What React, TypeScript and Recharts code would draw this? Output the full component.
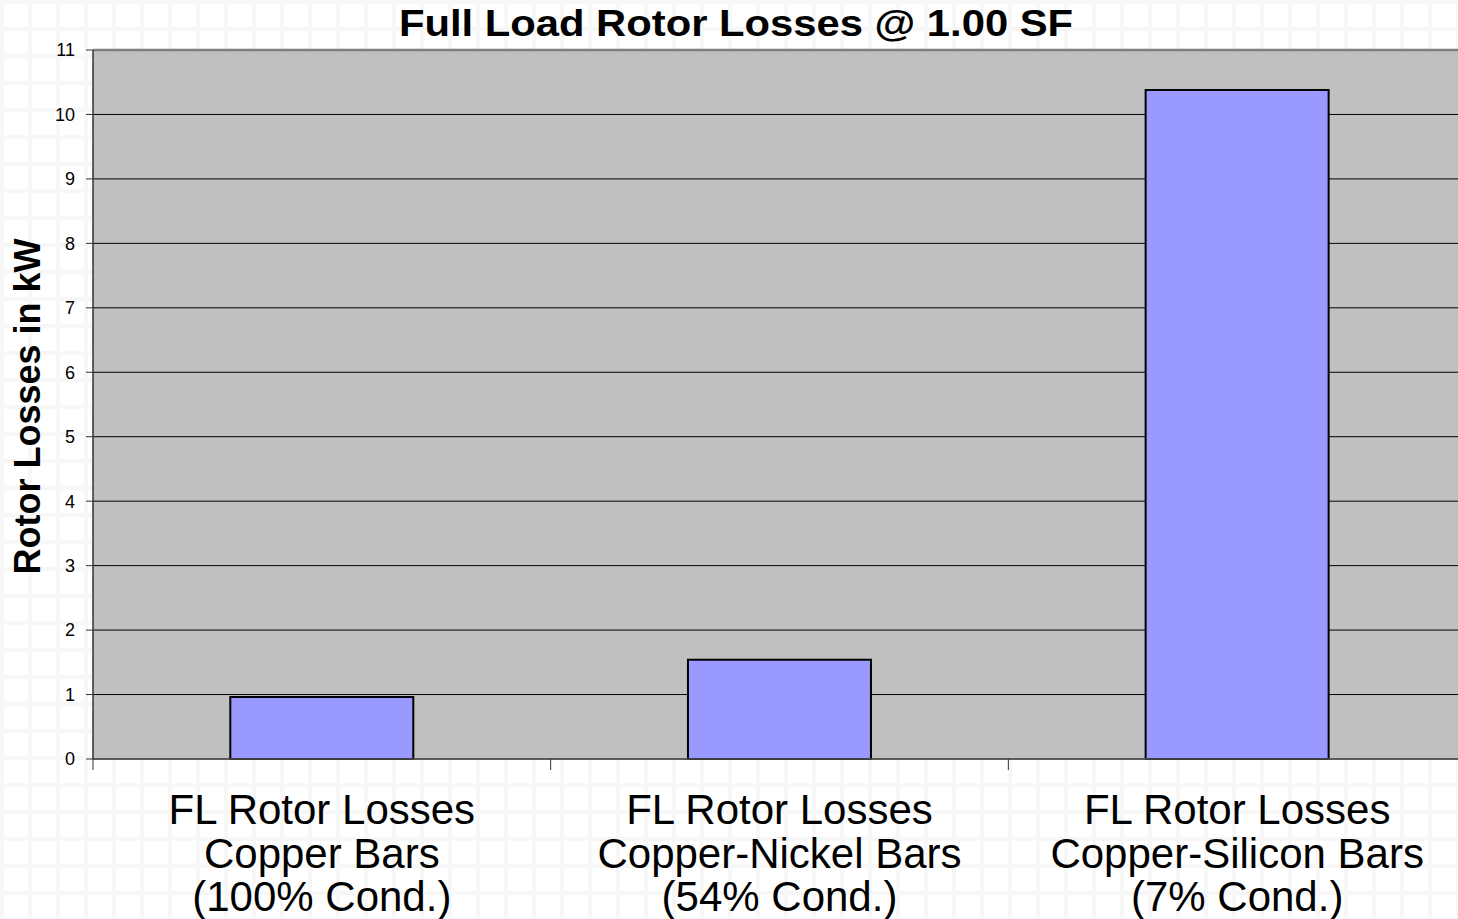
import { BarChart, Bar, XAxis, YAxis, CartesianGrid, ReferenceLine } from 'recharts';

// category labels, one array per text line
const categoryTitles = ['FL Rotor Losses', 'FL Rotor Losses', 'FL Rotor Losses'];
const barMaterials = ['Copper Bars', 'Copper-Nickel Bars', 'Copper-Silicon Bars'];
const conductivity = ['(100% Cond.)', '(54% Cond.)', '(7% Cond.)'];

// rotor losses in kW
const rotorLosses = [0.96, 1.54, 10.38];

const yTicks = [0, 1, 2, 3, 4, 5, 6, 7, 8, 9, 10, 11];

const data = rotorLosses.map((v, i) => ({
  name: barMaterials[i],
  loss: v,
}));

const CHART_W = 1470;
const CHART_H = 919;
const LEFT = 93;
const RIGHT_MARGIN = 4;
const PLOT_W = CHART_W - LEFT - RIGHT_MARGIN;
const BAND = PLOT_W / data.length;

const font = 'Arial, "Liberation Sans", sans-serif';

const CategoryTick = (props: any) => {
  const { x, y, index } = props;
  const top = y - 8;
  const left = x - BAND / 2;
  return (
    <g>
      <line x1={left} y1={top} x2={left} y2={top + 11} stroke="#333" strokeWidth={1} />
      {index === data.length - 1 && (
        <line x1={x + BAND / 2} y1={top} x2={x + BAND / 2} y2={top + 11} stroke="#333" strokeWidth={1} />
      )}
      <text x={x} y={top + 65} textAnchor="middle" fontFamily={font} fontSize={42} fill="#000">
        <tspan x={x}>{categoryTitles[index]}</tspan>
        <tspan x={x} dy={44}>{barMaterials[index]}</tspan>
        <tspan x={x} dy={43}>{conductivity[index]}</tspan>
      </text>
    </g>
  );
};

const YLabel = (props: any) => {
  const { viewBox } = props;
  const cx = 27;
  const cy = viewBox.y + viewBox.height / 2 + 2;
  return (
    <text
      x={cx}
      y={cy}
      transform={`rotate(-90, ${cx}, ${cy})`}
      textAnchor="middle"
      dominantBaseline="central"
      fontFamily={font}
      fontWeight="bold"
      fontSize={36}
      fill="#000"
    >
      Rotor Losses in kW
    </text>
  );
};

export default function App() {
  return (
    <div
      style={{
        position: 'absolute',
        left: 0,
        top: 0,
        width: 1458,
        height: 919,
        overflow: 'hidden',
        backgroundColor: '#fff',
        backgroundImage:
          'linear-gradient(to right, #f7f7f7 4px, transparent 4px), linear-gradient(to bottom, #f7f7f7 4px, transparent 4px)',
        backgroundSize: '28px 27px',
        fontFamily: font,
      }}
    >
      <div
        style={{
          position: 'absolute',
          top: 4,
          left: 0,
          width: 1472,
          textAlign: 'center',
          fontSize: 36,
          lineHeight: '40px',
          fontWeight: 'bold',
          color: '#000',
          transform: 'scaleX(1.16)',
          transformOrigin: '736px 50%',
        }}
      >
        Full Load Rotor Losses @ 1.00 SF
      </div>
      <BarChart
        width={CHART_W}
        height={CHART_H}
        data={data}
        margin={{ top: 50, right: RIGHT_MARGIN, left: 0, bottom: 10 }}
        barCategoryGap="30%"
      >
        <CartesianGrid vertical={false} stroke="#000" fill="#c0c0c0" fillOpacity={1} />
        <XAxis
          dataKey="name"
          height={150}
          axisLine={{ stroke: '#555', strokeWidth: 1.5 }}
          tickLine={false}
          interval={0}
          tick={<CategoryTick />}
        />
        <YAxis
          width={LEFT}
          domain={[0, 11]}
          ticks={yTicks}
          interval={0}
          tickSize={7}
          tickMargin={11}
          axisLine={{ stroke: '#333', strokeWidth: 1.5 }}
          tickLine={{ stroke: '#333' }}
          tick={{ fontSize: 18, fill: '#000', fontFamily: font }}
          label={<YLabel />}
        />
        <ReferenceLine y={11} stroke="#808080" strokeWidth={2.5} />
        <Bar dataKey="loss" fill="#9999ff" stroke="#000" strokeWidth={2} isAnimationActive={false} />
      </BarChart>
    </div>
  );
}
